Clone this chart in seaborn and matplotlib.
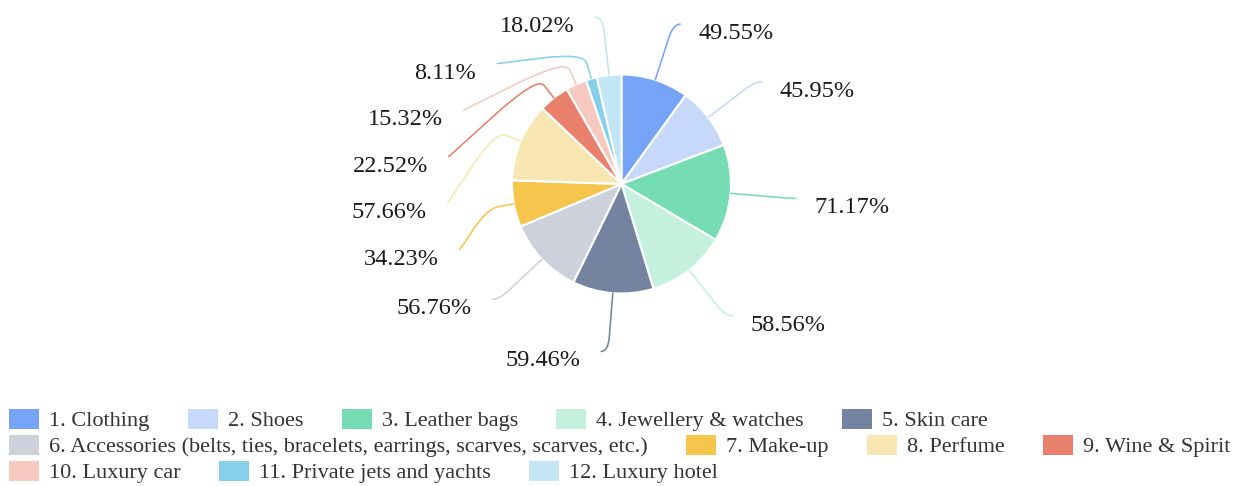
import numpy as np
import matplotlib
matplotlib.use("Agg")
import matplotlib.pyplot as plt
from matplotlib.path import Path
from matplotlib.patches import PathPatch, Patch
import seaborn as sns

# data
categories = ["1. Clothing", "2. Shoes", "3. Leather bags", "4. Jewellery & watches", "5. Skin care",
              "6. Accessories (belts, ties, bracelets, earrings, scarves, scarves, etc.)",
              "7. Make-up", "8. Perfume", "9. Wine & Spirit", "10. Luxury car",
              "11. Private jets and yachts", "12. Luxury hotel"]
shares = [49.55, 45.95, 71.17, 58.56, 59.46, 56.76, 34.23, 57.66, 22.52, 15.32, 8.11, 18.02]
colors = ["#76a5f8", "#c7d9fa", "#76dcb4", "#c6f0de", "#7383a0", "#ccd1dc",
          "#f5c54c", "#f8e6b2", "#e8806c", "#f5c9c0", "#86d0ec", "#c2e6f5"]
legend_rows = [5, 4, 3]

W, H = 1248, 486
CX, CY, R = 621.5, 184, 109.5      # pie centre / radius in screen pixels (y down)
ELBOW = R + 58.5
MID_SHIFT = R + 27
LEN2, SPACING, TOP = 7, 46.5, 17

sns.set_theme(style="white")
plt.rcParams["font.family"] = ["Liberation Serif", "DejaVu Serif"]

fig = plt.figure(figsize=(W / 100, H / 100), dpi=100)
ax = fig.add_axes([0, 0, 1, 1])
pal = sns.color_palette(colors)

ax.pie(shares, colors=pal, startangle=90, counterclock=False,
       center=(CX, H - CY), radius=R,
       wedgeprops=dict(edgecolor="white", linewidth=1.5))
ax.set_xlim(0, W)
ax.set_ylim(0, H)
ax.set_aspect("equal")
ax.axis("off")

# label layout (echarts-like: stack labels on each side so they don't overlap)
fracs = np.array(shares) / sum(shares)
mids = np.radians((np.cumsum(fracs) - fracs / 2) * 360)
items = []
for i, a in enumerate(mids):
    dx, dy = np.sin(a), -np.cos(a)
    items.append(dict(i=i, dx=dx, dy=dy, side=1 if dx >= 0 else -1, y=CY + ELBOW * dy))
for side in (1, -1):
    group = sorted([it for it in items if it["side"] == side], key=lambda it: it["y"])
    prev = TOP - SPACING
    for it in group:
        new = max(it["y"], prev + SPACING)
        it["shifted"] = new > it["y"] + 0.5
        it["y"] = new
        prev = new


def up(p):
    return (p[0], H - p[1])


def leader(p0, p1, p2, color, shifted):
    p0, p1, p2 = np.array(p0), np.array(p1), np.array(p2)
    d01 = np.linalg.norm(p1 - p0)
    d12 = np.linalg.norm(p2 - p1)
    ra = min(0.4 * d01, 14)
    rb = 0.5 * d12 if shifted else d12
    a = p1 + (p0 - p1) / d01 * ra
    b = p1 + (p2 - p1) / d12 * rb
    verts = [up(p0), up(a), up(p1), up(b), up(p2)]
    codes = [Path.MOVETO, Path.LINETO, Path.CURVE3, Path.CURVE3, Path.LINETO]
    ax.add_patch(PathPatch(Path(verts, codes), fill=False, edgecolor=color,
                           linewidth=1.15, capstyle="round"))


for it in items:
    i, s = it["i"], it["side"]
    edge = (CX + R * it["dx"], CY + R * it["dy"])
    y = it["y"]
    if it["shifted"]:
        mid = (CX + MID_SHIFT * it["dx"], CY + MID_SHIFT * it["dy"])
        ex = CX + s * np.sqrt(max(ELBOW ** 2 - (y - CY) ** 2, 0)) + s * LEN2
    else:
        mid = (CX + ELBOW * it["dx"], y)
        ex = mid[0] + s * LEN2
    leader(edge, mid, (ex, y), colors[i], it["shifted"])
    gap = 18 if s > 0 else 21
    ax.text(ex + s * gap, H - (y + 15), f"{shares[i]:.2f}%", fontsize=17.5,
            color="#1a1a1a", ha="left" if s > 0 else "right", va="baseline")

# legend, one row per legend so rows wrap like the original
start = 0
for row, n in enumerate(legend_rows):
    idx = range(start, start + n)
    handles = [Patch(facecolor=colors[k], edgecolor="none") for k in idx]
    fig.legend(handles, [categories[k] for k in idx], loc="center left",
               bbox_to_anchor=(9 / W, 1 - (420 + 26 * row) / H), ncol=n,
               frameon=False, fontsize=16, handlelength=1.35, handleheight=1.0,
               handletextpad=0.45, columnspacing=1.73, borderpad=0, borderaxespad=0,
               labelcolor="#333333")
    start += n

fig.savefig("out.png", dpi=100)
